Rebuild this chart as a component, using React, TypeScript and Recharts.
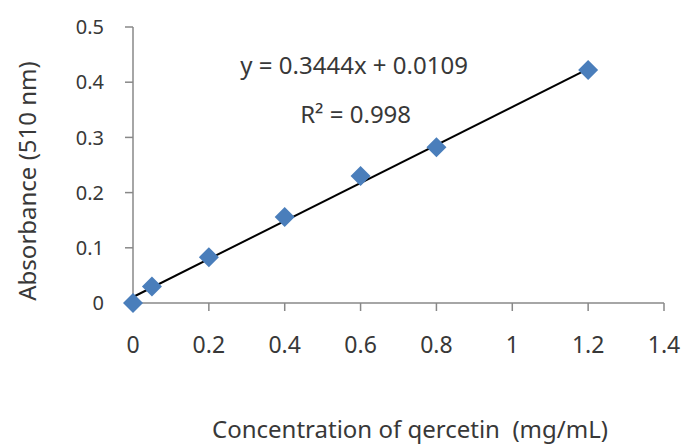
import { ScatterChart, Scatter, XAxis, YAxis, ReferenceDot } from "recharts";

// quercetin standard curve
const concentration = [0, 0.05, 0.2, 0.4, 0.6, 0.8, 1.2];
const absorbance = [0, 0.03, 0.083, 0.156, 0.23, 0.282, 0.422];

const xTicks = [0, 0.2, 0.4, 0.6, 0.8, 1, 1.2, 1.4];
const yTicks = [0, 0.1, 0.2, 0.3, 0.4, 0.5];

// linear fit reported on the chart
const slope = 0.3444;
const intercept = 0.0109;
const rSquared = 0.998;
const fitRange = [0, 1.2];

const points = concentration.map((x, i) => ({ x, y: absorbance[i] }));
const fitLine = fitRange.map((x) => ({ x, y: slope * x + intercept }));

const FONT = '"Noto Sans", sans-serif';
const TEXT = "#383838";
const AXIS = "#888888";

function Diamond(props: any) {
    const { cx, cy } = props;
    const r = 10;
    return (
        <polygon
            points={`${cx},${cy - r} ${cx + r},${cy} ${cx},${cy + r} ${cx - r},${cy}`}
            fill="#4A7EBB"
        />
    );
}

function YTitle({ viewBox }: any) {
    const x = 26;
    const y = viewBox.y + viewBox.height / 2 + 16;
    return (
        <text x={x} y={y} transform={`rotate(-90 ${x} ${y})`} textAnchor="middle" dominantBaseline="central"
            fontFamily={FONT} fontSize={24} fill={TEXT}>
            Absorbance (510 nm)
        </text>
    );
}

function XTitle() {
    return (
        <text x={410} y={438} textAnchor="middle" fontFamily={FONT} fontSize={24} fill={TEXT}
            style={{ whiteSpace: "pre" }}>
            {"Concentration of qercetin  (mg/mL)"}
        </text>
    );
}

export default function App() {
    return (
        <div style={{ position: "absolute", left: 0, top: 0, background: "#fff" }}>
            <ScatterChart width={684} height={444} margin={{ top: 27, right: 20, bottom: 0, left: 0 }}>
                <XAxis
                    type="number"
                    dataKey="x"
                    domain={[0, 1.4]}
                    ticks={xTicks}
                    height={141}
                    stroke={AXIS}
                    strokeWidth={1.5}
                    tickSize={8}
                    tickMargin={26}
                    tick={{ fill: TEXT, fontSize: 23, fontFamily: FONT }}
                    label={<XTitle />}
                />
                <YAxis
                    type="number"
                    dataKey="y"
                    domain={[0, 0.5]}
                    ticks={yTicks}
                    width={133}
                    stroke={AXIS}
                    strokeWidth={1.5}
                    tickSize={8}
                    tickMargin={21}
                    tick={{ fill: TEXT, fontSize: 20, fontFamily: FONT }}
                    label={<YTitle />}
                />
                <Scatter
                    data={fitLine}
                    line={{ stroke: "#000", strokeWidth: 2 }}
                    shape={() => <g />}
                    isAnimationActive={false}
                />
                <Scatter data={points} shape={<Diamond />} isAnimationActive={false} />
                <ReferenceDot
                    x={0.583}
                    y={0.431}
                    r={0}
                    stroke="none"
                    fill="none"
                    label={{ value: `y = ${slope}x + ${intercept}`, position: "center", fill: TEXT, fontSize: 24, fontFamily: FONT }}
                />
                <ReferenceDot
                    x={0.587}
                    y={0.342}
                    r={0}
                    stroke="none"
                    fill="none"
                    label={{ value: `R² = ${rSquared}`, position: "center", fill: TEXT, fontSize: 24, fontFamily: FONT }}
                />
            </ScatterChart>
        </div>
    );
}
